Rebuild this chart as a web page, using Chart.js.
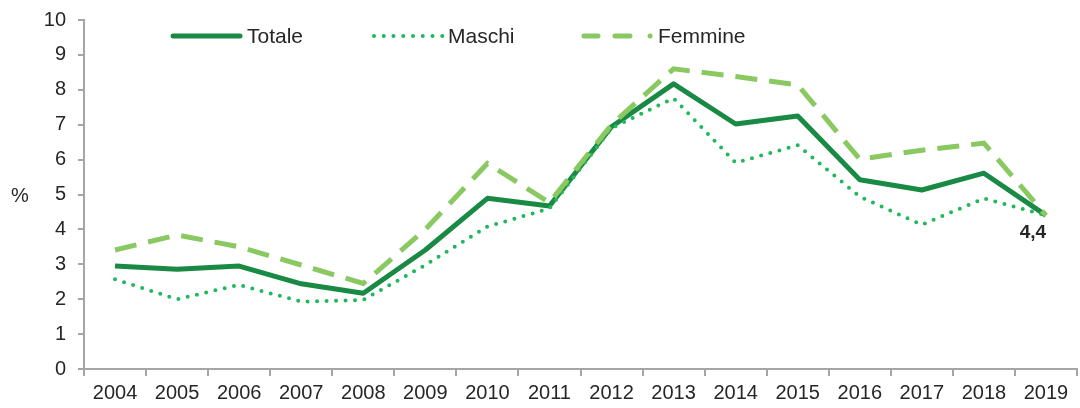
<!DOCTYPE html>
<html lang="it">
<head>
<meta charset="utf-8">
<script src="https://cdn.jsdelivr.net/npm/chart.js@4.4.7/dist/chart.umd.min.js"></script>
<style>
*{margin:0;padding:0;box-sizing:border-box}
body{background:#fff;width:1080px;height:408px;overflow:hidden}
#wrap{position:relative;width:1080px;height:408px}
</style>
</head>
<body>
<div id="wrap"><canvas id="c"></canvas></div>
<script>
const years = ['2004','2005','2006','2007','2008','2009','2010','2011','2012','2013','2014','2015','2016','2017','2018','2019'];
const totale  = [2.95, 2.86, 2.95, 2.44, 2.17, 3.41, 4.89, 4.67, 6.94, 8.17, 7.02, 7.25, 5.42, 5.13, 5.61, 4.4];
const maschi  = [2.57, 2.0, 2.41, 1.93, 1.98, 2.98, 4.08, 4.6, 6.9, 7.76, 5.91, 6.41, 4.94, 4.13, 4.89, 4.4];
const femmine = [3.41, 3.84, 3.5, 2.98, 2.45, 4.0, 5.89, 4.77, 7.0, 8.6, 8.38, 8.14, 6.01, 6.27, 6.47, 4.4];
const yTicks = [0,1,2,3,4,5,6,7,8,9,10];

const C_TOT = '#198a44', C_MAS = '#20b85a', C_FEM = '#8ac862';
const AXIS = '#a6a6a6', TXT = '#262626';
const FONT = '"Liberation Sans", Arial, sans-serif';

// legend, "%" label and last value label
const extras = {
  id: 'extras',
  afterDraw(chart) {
    const ctx = chart.ctx;
    ctx.save();
    ctx.lineCap = 'round';
    const ly = 36;
    const seg = (x0, x1, color, w, dash) => {
      ctx.beginPath();
      ctx.setLineDash(dash);
      ctx.strokeStyle = color;
      ctx.lineWidth = w;
      ctx.moveTo(x0, ly);
      ctx.lineTo(x1, ly);
      ctx.stroke();
      ctx.setLineDash([]);
    };
    seg(173, 240, C_TOT, 5, []);
    seg(374, 442.5, C_MAS, 4, [0, 9.75]);
    seg(584, 598, C_FEM, 5, []);
    seg(615, 630, C_FEM, 5, []);
    seg(650, 650.1, C_FEM, 5, []);
    ctx.fillStyle = TXT;
    ctx.font = '21px ' + FONT;
    ctx.textBaseline = 'middle';
    ctx.textAlign = 'left';
    ctx.fillText('Totale', 247, ly + 1);
    ctx.fillText('Maschi', 448, ly + 1);
    ctx.fillText('Femmine', 658, ly + 1);
    ctx.font = '20px ' + FONT;
    ctx.fillText('%', 11, 196);
    // value label on last point
    const meta = chart.getDatasetMeta(2);
    const p = meta.data[meta.data.length - 1];
    ctx.font = 'bold 19px ' + FONT;
    ctx.textAlign = 'center';
    ctx.fillText(String(totale[totale.length - 1]).replace('.', ','), p.x - 13, p.y + 17);
    ctx.restore();
  }
};

new Chart(document.getElementById('c'), {
  type: 'line',
  data: {
    labels: years,
    datasets: [
      { label: 'Femmine', data: femmine, borderColor: C_FEM, borderWidth: 5, borderDash: [22, 12], borderCapStyle: 'butt', pointRadius: 0, tension: 0 },
      { label: 'Maschi', data: maschi, borderColor: C_MAS, borderWidth: 4, borderDash: [0, 9.5], borderCapStyle: 'round', pointRadius: 0, tension: 0 },
      { label: 'Totale', data: totale, borderColor: C_TOT, borderWidth: 5, borderJoinStyle: 'round', pointRadius: 0, tension: 0 }
    ]
  },
  options: {
    responsive: true,
    maintainAspectRatio: false,
    animation: false,
    layout: { padding: { top: 20, right: 3, left: 0, bottom: 0 } },
    plugins: { legend: { display: false }, tooltip: { enabled: false } },
    scales: {
      x: {
        type: 'category',
        offset: true,
        grid: { display: true, drawOnChartArea: false, drawTicks: true, tickLength: 7, color: AXIS, lineWidth: 2, offset: true },
        border: { display: true, color: AXIS, width: 2 },
        ticks: { color: TXT, font: { family: FONT, size: 20 }, padding: 5, maxRotation: 0, autoSkip: false },
        afterFit(s) { s.height = 39; s.paddingLeft = 0; s.paddingRight = 0; }
      },
      y: {
        min: 0, max: 10,
        afterBuildTicks(s) { s.ticks = yTicks.map(v => ({ value: v })); },
        grid: { display: true, drawOnChartArea: false, drawTicks: true, tickLength: 6, color: AXIS, lineWidth: 2 },
        border: { display: true, color: AXIS, width: 2 },
        ticks: { color: TXT, font: { family: FONT, size: 20 }, padding: 12 },
        afterFit(s) { s.width = 84; s.paddingTop = 0; s.paddingBottom = 0; }
      }
    }
  },
  plugins: [extras]
});
</script>
</body>
</html>
